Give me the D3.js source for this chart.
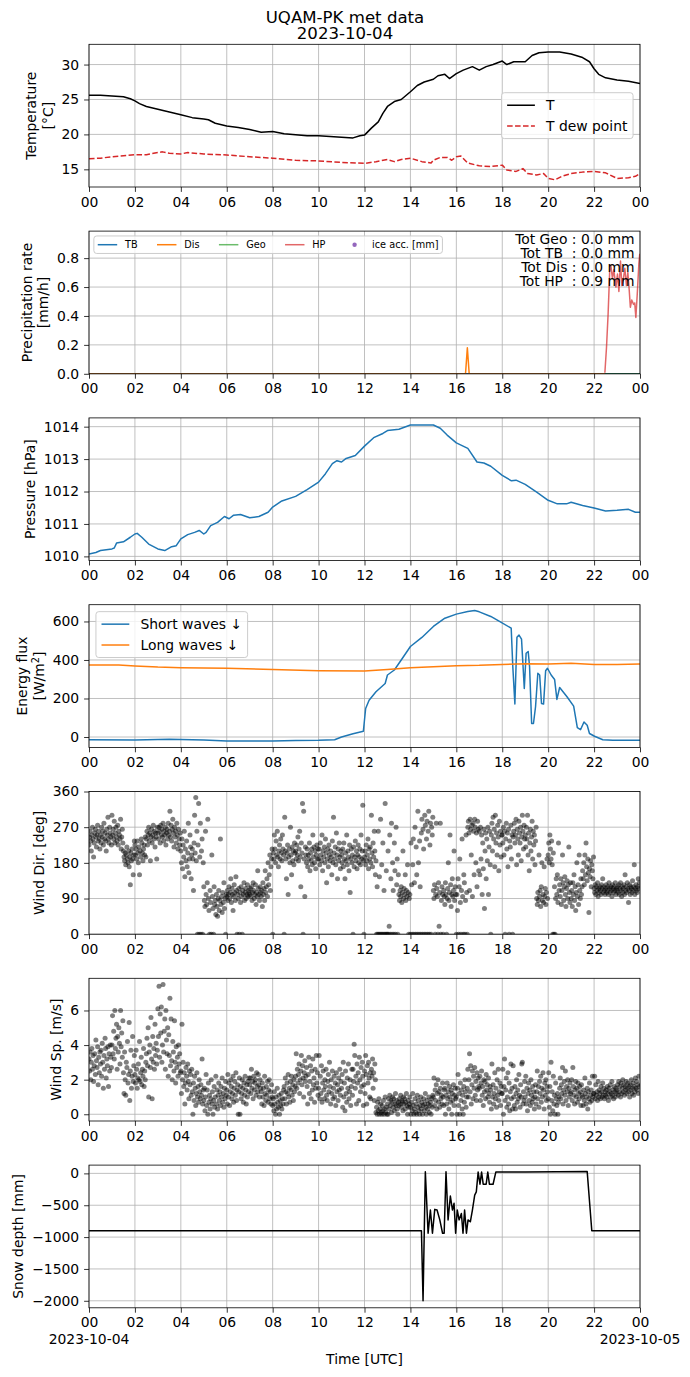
<!DOCTYPE html>
<html>
<head>
<meta charset="utf-8">
<script src="https://cdn.jsdelivr.net/npm/d3@7"></script>
<style>
body { margin: 0; background: #fff; }
text { font-family: "DejaVu Sans", sans-serif; }
</style>
</head>
<body>
<div id="chart"></div>
<script>
// ---- data, [hour UTC, value] ----
var tempSeries = [[0,25.6],[0.5,25.6],[1,25.5],[1.5,25.4],[1.8,25.1],[2,24.8],[2.2,24.4],[2.5,24.0],[3,23.6],[3.5,23.2],
  [4,22.8],[4.5,22.4],[5,22.2],[5.2,22.1],[5.5,21.6],[6,21.2],[6.5,21.0],[7,20.7],[7.5,20.3],[8,20.4],
  [8.5,20.1],[9,19.95],[9.5,19.8],[10,19.8],[10.5,19.7],[11,19.6],[11.5,19.5],[11.8,19.8],[12,19.9],[12.3,20.9],
  [12.6,21.8],[12.8,23.0],[13,24.0],[13.3,24.7],[13.6,25.0],[14,26.1],[14.3,27.0],[14.6,27.5],[15,27.9],[15.2,28.4],
  [15.5,28.6],[15.7,28.0],[16,28.7],[16.3,29.2],[16.7,29.7],[17,29.2],[17.3,29.7],[17.6,30.0],[18,30.5],[18.2,30.0],
  [18.5,30.4],[19,30.4],[19.3,31.3],[19.6,31.7],[20,31.8],[20.5,31.8],[21,31.5],[21.5,31.0],[21.8,30.4],[22,29.4],
  [22.2,28.6],[22.5,28.1],[23,27.8],[23.5,27.6],[24,27.3]];
var dewSeries = [[0,16.5],[0.5,16.6],[1,16.8],[2,17.1],[2.5,17.1],[3,17.4],[3.2,17.5],[3.5,17.3],[4,17.2],[4.3,17.4],
  [5,17.2],[6,17.05],[7,16.8],[8,16.6],[9,16.3],[10,16.2],[11,16.0],[12,15.85],[12.5,16.1],[13,16.4],
  [13.3,16.1],[13.6,16.4],[14,16.6],[14.5,16.1],[14.9,15.9],[15,16.3],[15.3,16.7],[15.6,16.7],[15.8,16.3],[16,16.8],
  [16.2,16.9],[16.5,15.9],[17,15.5],[17.5,15.4],[18,15.6],[18.2,14.9],[18.6,14.7],[18.9,15.1],[19.1,14.4],[19.5,14.2],
  [19.8,14.4],[20,13.7],[20.3,13.5],[20.6,14.0],[21,14.4],[21.5,14.6],[22,14.7],[22.5,14.5],[23,13.7],[23.5,13.8],
  [23.8,14.0],[24,14.4]];

var precipTB = [[0,0],[24,0]];
var precipDis = [[0,0],[16.4,0],[16.48,0.18],[16.56,0],[22.47,0]];
var precipGeo = [[22.47,0],[24,0]];
var precipHP = [[22.47,0.007],[22.54,0.18],[22.61,0.41],[22.68,0.71],[22.73,0.75],[22.8,0.66],[22.86,0.72],[22.95,0.6],
  [23.02,0.69],[23.08,0.57],[23.15,0.78],[23.21,0.61],[23.27,0.65],[23.34,0.73],[23.41,0.61],[23.47,0.70],[23.53,0.58],
  [23.58,0.46],[23.64,0.51],[23.72,0.48],[23.77,0.49],[23.82,0.39],[23.88,0.55],[23.95,0.76],[23.99,0.83]];
var precipTotals = ["Tot Geo : 0.0 mm", "Tot TB  : 0.0 mm", "Tot Dis : 0.0 mm", "Tot HP  : 0.9 mm"];

var pressSeries = [[0,1010.07],[0.3,1010.12],[0.5,1010.18],[1,1010.23],[1.1,1010.26],[1.2,1010.41],[1.5,1010.45],[1.8,1010.59],
  [2,1010.69],[2.1,1010.71],[2.3,1010.59],[2.6,1010.38],[3,1010.23],[3.3,1010.18],[3.6,1010.3],[3.8,1010.33],[4,1010.54],
  [4.3,1010.67],[4.6,1010.74],[4.8,1010.8],[5,1010.69],[5.1,1010.74],[5.3,1010.95],[5.6,1011.05],[5.9,1011.23],[6.1,1011.16],
  [6.3,1011.27],[6.6,1011.29],[7,1011.19],[7.4,1011.23],[7.8,1011.36],[8,1011.52],[8.4,1011.71],[9,1011.85],[9.5,1012.06],
  [10,1012.29],[10.3,1012.55],[10.6,1012.86],[10.8,1012.95],[11,1012.91],[11.2,1013.02],[11.6,1013.11],[12,1013.4],
  [12.4,1013.66],[12.8,1013.79],[13,1013.88],[13.5,1013.92],[14,1014.05],[14.5,1014.05],[15,1014.05],[15.3,1013.95],
  [15.6,1013.74],[16,1013.5],[16.5,1013.33],[16.9,1012.91],[17.2,1012.88],[17.5,1012.78],[18,1012.5],[18.4,1012.33],
  [18.6,1012.35],[19,1012.22],[19.5,1011.98],[20,1011.73],[20.4,1011.62],[20.8,1011.62],[21,1011.67],[21.5,1011.57],
  [22,1011.49],[22.5,1011.4],[23,1011.42],[23.5,1011.45],[23.8,1011.36],[24,1011.36]];

var shortWave = [[0,-14],[2,-15],[3.5,-12],[5,-15],[6,-21],[8,-21],[9,-18],[10,-17],[10.7,-14],[11,0],[11.5,17],[11.95,30],
  [12.05,148],[12.2,191],[12.5,235],[12.9,278],[13,322],[13.3,348],[13.6,400],[14,470],[14.5,517],[15,574],[15.5,617],
  [16,638],[16.5,652],[16.8,657],[17,650],[17.5,626],[17.88,600],[18.39,565],[18.46,365],[18.55,171],[18.64,518],
  [18.73,529],[18.84,508],[18.96,252],[19.04,435],[19.13,444],[19.19,365],[19.28,70],[19.36,70],[19.45,157],[19.55,331],
  [19.63,322],[19.71,174],[19.8,171],[19.89,344],[19.97,357],[20.13,322],[20.28,299],[20.38,195],[20.5,257],[20.82,209],
  [21.11,160],[21.27,49],[21.41,38],[21.56,78],[21.7,61],[21.8,18],[22.02,4],[22.38,-14],[22.82,-17],[24,-17]];
var longWave = [[0,374],[1.3,374],[2,369],[3,363],[4,360],[6,357],[8,350],[10,344],[12,343],[13,351],[14,360],[16,370],
  [17,372],[18,377],[19,381],[20,379],[21,383],[22,377],[23,377],[24,379]];

// wind: one row per hour, 40 readings per hour (every 1.5 min)
var windDirRows = [
  [225,245,260,235,210,250,270,240,195,230,255,265,245,220,250,275,235,260,240,215,250,230,270,245,260,225,280,240,255,235,210,265,250,295,240,230,270,255,245,225],
  [300,250,265,240,285,230,255,270,245,235,275,225,260,250,240,290,215,245,265,230,210,195,185,205,175,200,220,190,180,210,170,195,125,205,185,215,190,150,200,235],
  [225,200,215,190,235,205,180,220,150,210,195,240,230,205,185,215,225,200,245,195,240,260,225,250,270,235,255,185,245,265,230,250,275,240,260,220,255,245,190,270],
  [255,240,270,260,230,275,250,265,245,280,235,260,250,270,225,255,265,240,280,250,260,310,245,275,235,265,290,255,220,270,245,260,230,280,250,215,265,240,225,255],
  [210,180,240,165,225,195,260,145,215,185,235,170,205,280,155,190,250,220,140,200,215,190,110,230,300,205,345,185,260,0,225,330,0,195,280,0,210,240,0,180],
  [120,85,70,260,100,75,130,290,90,60,0,110,80,0,200,95,65,0,120,75,85,50,100,70,45,90,110,60,85,240,75,95,55,105,80,130,65,90,0,100],
  [95,110,85,100,120,90,105,140,80,115,100,60,95,125,105,85,145,110,0,100,90,115,0,105,80,120,95,0,110,100,130,85,105,115,90,100,125,95,110,105],
  [100,115,95,120,85,105,130,110,90,100,125,75,105,95,160,115,100,85,120,105,95,110,70,130,100,115,85,160,105,120,140,95,180,125,150,200,110,170,190,215],
  [0,205,190,250,215,180,235,200,260,195,170,210,225,190,240,205,185,250,215,200,0,295,210,190,140,205,225,100,195,215,180,270,200,150,220,185,210,175,230,205],
  [210,190,225,200,245,185,215,260,195,120,230,205,330,0,310,190,95,220,200,180,215,170,200,190,230,160,205,185,215,175,250,195,220,180,210,165,200,225,190,215],
  [190,215,175,230,200,185,250,160,210,195,220,180,240,205,130,190,215,170,225,200,185,210,195,150,235,180,295,205,190,220,175,255,200,140,215,185,230,195,165,210],
  [200,180,215,170,230,190,140,205,185,250,175,210,195,160,225,105,190,215,180,200,0,220,170,195,235,185,210,165,200,225,180,195,215,175,250,190,210,325,185,0],
  [195,210,175,225,185,200,240,165,215,190,220,180,300,205,170,230,195,260,210,150,185,0,120,0,260,0,145,0,290,0,175,0,230,0,110,0,330,0,160,0],
  [0,210,0,20,250,0,140,280,0,180,110,0,230,160,0,270,125,190,0,150,100,85,110,95,120,80,105,210,90,115,100,150,85,110,95,175,105,0,90,100],
  [0,230,125,0,175,240,0,130,270,0,220,150,0,310,180,0,235,120,0,255,290,0,265,215,0,300,275,0,240,285,0,260,310,0,225,280,0,270,250,295],
  [110,90,125,0,100,280,115,95,0,130,20,105,280,0,85,120,100,0,110,95,75,130,100,0,90,115,180,85,105,250,125,70,100,140,95,110,210,85,120,100],
  [0,100,60,140,0,120,190,80,0,110,240,95,0,150,130,0,85,250,105,0,270,285,255,110,290,265,200,275,95,280,260,150,290,270,180,255,120,285,265,160],
  [260,150,270,190,250,100,230,165,265,65,210,255,140,240,185,270,100,220,260,175,0,250,280,210,295,240,265,170,300,230,255,200,275,245,160,285,225,260,195,250],
  [250,230,270,200,260,0,240,280,215,255,170,265,0,235,220,275,190,250,0,245,260,280,230,250,290,175,265,240,200,285,255,230,270,185,245,300,260,215,275,240],
  [250,220,270,240,300,200,255,160,230,265,210,245,285,190,260,225,250,175,235,270,90,75,105,85,200,95,110,70,120,180,85,100,80,170,95,115,75,105,190,90],
  [200,230,180,250,215,190,235,175,0,205,0,120,0,90,140,100,150,80,230,110,125,95,140,75,110,200,130,85,120,145,100,70,115,135,90,125,220,105,80,130],
  [90,110,70,130,100,150,85,120,60,105,180,95,125,75,200,110,90,140,100,120,160,140,180,125,200,150,230,170,135,190,155,55,165,145,185,120,175,160,140,195],
  [115,105,125,100,120,110,130,95,115,105,120,110,100,125,115,140,105,120,110,100,115,125,105,110,120,100,130,115,105,120,110,95,125,115,105,120,110,130,100,115],
  [110,120,105,125,100,115,130,110,95,120,105,115,125,100,150,110,120,105,130,115,80,110,125,100,120,115,105,135,110,120,175,100,115,125,110,105,120,140,115,130]];
var windSpRows = [
  [3.2,2.5,3.6,2.0,3.0,3.8,2.6,3.4,1.9,2.8,3.5,2.3,4.3,3.1,2.7,3.9,1.7,3.3,2.4,3.6,2.9,3.7,2.2,4.1,3.0,1.5,3.4,2.6,4.4,3.8,2.1,3.2,2.8,3.9,1.6,3.5,2.5,4.0,3.3,2.7],
  [4.0,5.7,3.5,4.8,3.2,6.0,3.8,4.4,5.2,2.6,4.5,3.6,5.0,4.1,2.9,6.0,3.9,4.7,3.3,5.4,2.4,1.2,3.6,2.0,1.1,3.0,2.7,4.2,1.8,2.3,5.3,0.8,2.5,3.7,1.5,2.2,4.5,1.9,2.8,3.4],
  [2.3,1.8,3.7,2.6,1.5,2.1,2.9,2.0,4.2,1.9,2.4,3.3,1.7,2.6,2.2,3.8,1.6,2.5,2.0,3.0,3.5,4.4,2.8,5.0,1.0,3.6,4.0,2.7,5.6,3.2,0.9,4.5,3.0,3.8,2.6,5.2,3.4,4.1,2.9,3.7],
  [6.1,4.5,7.4,3.3,5.8,4.7,6.2,3.0,4.0,7.5,3.6,4.8,5.5,2.6,6.0,4.3,3.5,5.0,2.2,4.6,3.4,6.7,2.8,5.5,3.1,2.0,4.2,3.6,2.5,5.4,3.0,1.8,3.9,2.7,3.3,2.2,4.0,2.9,3.5,2.4],
  [2.5,1.2,5.2,2.0,3.0,1.6,2.4,0.6,1.8,2.7,2.2,1.4,2.9,1.9,0.9,2.5,1.7,2.3,1.1,2.6,1.3,0.0,1.8,0.8,2.2,1.5,0.5,1.2,2.4,1.0,1.6,0.7,2.0,1.3,0.9,1.7,1.1,3.2,0.6,1.4],
  [0.8,1.5,0.2,1.0,2.3,0.5,1.4,0.0,1.8,0.7,1.1,0.3,0.9,2.0,0.6,1.3,0.0,0.8,1.6,0.4,1.0,2.2,0.6,1.4,0.3,1.1,1.8,0.8,1.3,0.5,1.6,1.0,2.1,0.7,1.2,0.4,1.5,0.9,1.9,1.1],
  [1.4,0.6,2.3,1.0,1.8,0.5,1.3,2.0,1.6,0.9,1.2,2.2,0.7,1.5,1.9,1.1,2.4,0.8,1.4,1.7,0.0,1.3,2.1,0.0,1.6,0.9,1.2,2.0,1.5,0.7,1.8,1.1,2.2,1.4,0.6,1.7,1.0,1.9,1.3,2.1],
  [1.7,2.1,1.2,2.6,1.5,1.9,0.9,2.2,1.4,1.8,2.0,1.1,2.4,1.6,1.3,2.3,1.7,1.0,2.0,1.5,1.3,0.6,1.8,1.0,1.5,0.5,2.2,1.2,0.8,1.6,1.1,1.9,0.7,1.4,2.0,0.9,1.3,0.6,1.7,1.0],
  [0.5,0.9,0.2,1.3,0.6,0.0,1.0,0.3,1.5,0.7,0.4,1.1,0.0,0.8,0.5,1.2,0.3,0.9,0.6,1.4,1.6,0.9,2.1,1.3,0.6,1.8,1.2,2.3,1.0,1.5,0.7,1.9,1.4,2.2,1.1,1.7,0.8,2.0,1.3,1.6],
  [2.2,3.5,1.5,2.6,1.8,2.3,2.9,1.2,2.0,2.5,3.4,1.7,2.8,2.1,1.0,2.4,3.1,1.9,2.2,2.7,1.6,0.6,2.3,3.3,1.2,1.9,2.8,0.9,2.5,1.4,3.2,1.7,2.1,0.7,2.6,1.5,3.4,1.8,2.4,1.1],
  [1.5,3.4,0.9,2.2,1.2,2.8,0.7,1.8,2.5,1.4,0.9,2.0,1.6,2.6,1.1,0.8,1.9,2.3,1.3,3.0,1.6,0.6,2.0,1.2,2.5,0.9,1.5,2.2,1.0,1.8,0.5,2.4,1.3,1.7,0.8,2.1,1.4,2.6,1.1,1.9],
  [1.5,2.3,0.4,3.0,1.0,1.8,0.2,2.5,1.2,0.7,2.1,1.5,2.9,0.9,1.3,2.0,0.5,1.6,2.6,1.1,2.6,1.9,4.05,3.4,1.5,2.2,0.6,2.9,1.8,2.4,0.8,3.3,2.0,1.3,2.7,1.6,3.0,2.2,0.5,1.7],
  [2.5,1.2,3.4,2.3,0.6,2.8,1.8,3.0,2.1,1.0,2.4,0.9,2.6,2.2,3.2,1.5,2.4,0.8,2.9,2.0,0.1,0.4,0.0,0.7,0.2,0.9,0.0,0.3,0.6,0.1,0.0,0.5,0.2,0.8,0.0,0.3,1.0,0.1,0.4,0.0],
  [0.6,0.0,0.9,0.3,1.1,0.5,0.8,0.1,0.7,1.0,0.4,0.9,0.2,0.6,1.2,0.5,0.8,0.3,0.0,0.7,0.5,0.9,0.6,1.1,0.4,0.8,0.7,0.2,1.0,0.6,0.9,0.3,0.7,1.2,0.5,0.0,0.8,0.4,0.6,1.0],
  [0.4,0.0,0.7,0.2,1.2,0.5,0.0,0.3,0.9,0.1,0.6,0.0,1.1,0.4,0.8,0.2,0.0,0.5,1.0,0.3,0.7,0.0,0.5,0.9,0.2,0.6,1.2,0.4,0.0,0.8,0.3,0.6,1.0,0.1,0.5,0.7,0.0,0.9,0.4,1.1],
  [1.0,2.1,0.5,1.4,0.8,1.7,0.3,1.2,2.0,0.7,1.3,0.4,1.5,0.9,1.1,0.6,1.8,1.0,0.5,1.4,1.5,0.0,1.1,0.6,1.8,0.9,1.3,0.3,1.6,1.0,0.7,1.4,0.0,1.2,0.8,1.7,0.5,1.1,1.5,0.9],
  [1.0,0.0,1.5,2.3,0.5,1.2,0.0,1.8,0.8,1.4,0.3,1.1,0.0,1.6,0.7,2.0,1.3,0.4,1.0,1.5,2.6,1.0,2.0,3.5,1.3,2.8,0.6,1.7,2.5,0.9,2.2,1.5,2.7,1.1,1.9,0.8,2.4,1.4,2.1,1.6],
  [1.5,2.2,0.8,1.8,2.5,1.1,1.6,0.5,2.0,1.3,1.9,0.9,2.3,1.4,1.7,1.0,2.1,1.2,0.7,1.6,1.4,0.3,2.9,1.0,1.7,0.6,1.2,2.4,0.9,1.5,0.4,2.0,1.1,2.6,0.8,1.3,1.8,0.5,1.6,1.2],
  [1.2,2.6,0.0,1.6,3.2,0.8,1.4,2.1,0.4,1.0,2.4,0.6,1.8,0.2,1.3,2.9,0.9,1.5,0.3,2.8,1.0,0.5,1.6,0.3,1.2,2.0,0.7,1.4,0.9,2.3,1.1,0.4,1.7,1.0,2.9,3.0,0.6,1.3,0.8,1.9],
  [1.0,2.2,0.6,1.5,0.2,1.2,1.8,0.8,1.4,0.5,2.0,1.1,0.7,1.6,0.9,1.3,0.3,1.0,1.7,0.6,1.3,2.5,0.9,1.6,0.4,1.9,1.2,2.2,0.7,1.5,1.0,2.4,1.4,0.3,1.8,1.1,2.0,0.8,1.6,1.3],
  [0.9,2.4,0.4,1.6,0.0,3.0,0.8,1.3,0.2,2.2,0.6,1.1,0.0,1.8,0.9,0.5,1.2,0.0,0.7,1.0,1.5,2.1,0.9,1.7,1.2,2.7,0.6,1.4,1.9,1.1,2.5,0.8,1.6,1.3,2.0,0.5,1.5,1.0,1.8,1.2],
  [1.3,2.0,0.8,2.7,1.6,1.1,0.6,1.4,1.9,1.0,1.5,0.7,1.8,1.2,0.9,1.6,1.3,0.5,1.7,1.1,1.0,0.5,1.4,0.8,2.1,1.2,0.6,1.0,1.5,0.3,1.3,0.9,1.8,0.7,1.1,1.4,0.8,2.2,1.0,1.2],
  [1.2,2.2,0.9,1.7,1.1,1.3,0.8,1.9,1.0,1.4,1.2,0.9,1.6,1.3,1.0,1.8,1.1,1.5,0.9,1.3,1.1,1.4,1.0,1.6,1.2,0.8,1.5,1.3,1.7,1.0,1.2,1.9,1.1,1.4,0.9,1.6,1.3,1.0,1.5,1.2],
  [1.4,1.7,1.1,1.9,1.3,1.6,1.0,1.8,1.2,1.5,2.0,1.3,1.7,1.1,1.6,1.4,1.9,1.2,1.5,1.8,1.3,1.6,1.0,1.7,1.4,2.0,1.2,1.5,1.8,1.1,1.6,1.3,2.1,1.5,1.9,1.4,1.7,1.2,2.2,1.6]];

var snowSeries = [[0,-900],[14.48,-900],[14.55,-2000],[14.65,25],[14.77,-940],[14.87,-575],[14.96,-940],[15.06,-565],
  [15.16,-575],[15.28,-730],[15.4,-940],[15.47,-940],[15.55,25],[15.64,-730],[15.74,-355],[15.83,-575],[15.9,-470],
  [15.97,-940],[16.04,-575],[16.12,-730],[16.22,-630],[16.29,-940],[16.36,-575],[16.44,-940],[16.51,-730],[16.61,-760],
  [16.7,-575],[16.8,-340],[16.87,-290],[16.95,20],[17.03,-170],[17.1,20],[17.17,-170],[17.3,-170],[17.37,20],[17.44,-170],
  [17.6,-170],[17.72,20],[19,22],[21.7,28],[21.9,-900],[24,-900]];

var hourTicks = [0,2,4,6,8,10,12,14,16,18,20,22,24];
var dayLabels = ["2023-10-04", "2023-10-05"];

// ---- layout ----
var W = 690, H = 1377;
var left = 89, right = 640;
var panelTop0 = 44.3, panelStep = 186.8, panelH = 142.7;
var fs = 13.9;
var tick = 4.9;

var t0 = Date.UTC(2023, 9, 4);
function toDate(h) { return new Date(t0 + h * 3600e3); }

var svg = d3.select("#chart").append("svg")
    .attr("width", W).attr("height", H)
    .style("background", "#fff");

var x = d3.scaleUtc().domain([toDate(0), toDate(24)]).range([left, right]);
var xTicks = hourTicks.map(toDate);

function textWidth(str, size) {
    var t = svg.append("text").attr("font-size", size).text(str);
    var w = t.node().getComputedTextLength();
    t.remove();
    return w;
}

function makePanel(i, domain, yTicks, fmt, labelLines) {
    var top = panelTop0 + i * panelStep, bottom = top + panelH;
    var y = d3.scaleLinear().domain(domain).range([bottom, top]);
    var g = svg.append("g");

    var clipId = "clip" + i;
    svg.append("clipPath").attr("id", clipId)
        .append("rect").attr("x", left).attr("y", top)
        .attr("width", right - left).attr("height", panelH);

    var grid = g.append("g").attr("stroke", "#b0b0b0").attr("stroke-width", 0.8);
    grid.selectAll(".gx").data(xTicks).join("line")
        .attr("x1", d => x(d)).attr("x2", d => x(d))
        .attr("y1", top).attr("y2", bottom);
    grid.selectAll(".gy").data(yTicks).join("line")
        .attr("x1", left).attr("x2", right)
        .attr("y1", d => y(d)).attr("y2", d => y(d));

    var plot = g.append("g").attr("clip-path", "url(#" + clipId + ")");

    return { g: g, plot: plot, y: y, top: top, bottom: bottom, i: i,
             yTicks: yTicks, fmt: fmt, labelLines: labelLines };
}

function finishPanel(p) {
    var g = svg.append("g");
    g.append("rect").attr("x", left).attr("y", p.top)
        .attr("width", right - left).attr("height", panelH)
        .attr("fill", "none").attr("stroke", "#000").attr("stroke-width", 0.8);

    var xa = g.append("g").attr("transform", "translate(0," + p.bottom + ")")
        .call(d3.axisBottom(x).tickValues(xTicks).tickFormat(d3.utcFormat("%H"))
              .tickSize(tick).tickPadding(tick));
    var ya = g.append("g").attr("transform", "translate(" + left + ",0)")
        .call(d3.axisLeft(p.y).tickValues(p.yTicks).tickFormat(p.fmt)
              .tickSize(tick).tickPadding(tick));
    [xa, ya].forEach(function(a) {
        a.select(".domain").remove();
        a.attr("font-family", null).attr("font-size", fs);
        a.selectAll("line").attr("stroke-width", 0.8);
        a.selectAll("text").attr("fill", "#000");
    });

    // y label, placed left of the tick labels
    var bb = ya.node().getBBox();
    var xr = left + bb.x - 5.6;
    var yc = (p.top + p.bottom) / 2;
    var n = p.labelLines.length;
    var lab = g.append("text")
        .attr("transform", "translate(" + xr + "," + yc + ") rotate(-90)")
        .attr("text-anchor", "middle").attr("font-size", fs);
    p.labelLines.forEach(function(line, k) {
        var ts = lab.append("tspan").attr("x", 0)
            .attr("y", -0.236 * fs - (n - 1 - k) * 16.7);
        if (typeof line === "string") ts.text(line);
        else line(ts);
    });
    return g;
}

function drawLine(p, data, color, opts) {
    opts = opts || {};
    var line = d3.line().x(d => x(toDate(d[0]))).y(d => p.y(d[1]));
    p.plot.append("path").attr("d", line(data))
        .attr("fill", "none").attr("stroke", color)
        .attr("stroke-width", 1.5)
        .attr("stroke-opacity", opts.opacity || 1)
        .attr("stroke-dasharray", opts.dash || null)
        .attr("stroke-linejoin", "round");
}

function drawDots(p, rows) {
    var pts = [];
    rows.forEach(function(row, h) {
        row.forEach(function(v, k) { pts.push([h + k / row.length, v]); });
    });
    p.plot.append("g").selectAll("circle").data(pts).join("circle")
        .attr("cx", d => x(toDate(d[0]))).attr("cy", d => p.y(d[1]))
        .attr("r", 2.5).attr("fill", "#000").attr("fill-opacity", 0.5);
}

function drawLegend(p, items, size, loc, ncol) {
    var bp = 0.4 * size, hl = 2 * size, hp = 0.8 * size, ls = 0.5 * size, cs = 2 * size, pad = 0.5 * size;
    var rowH = size;
    var widths = items.map(d => textWidth(d.label, size));
    var nrow = Math.ceil(items.length / ncol);
    var colW = [];
    for (var c = 0; c < ncol; c++) {
        var m = 0;
        for (var r = 0; r < nrow; r++) {
            var j = c * nrow + r;
            if (j < items.length) m = Math.max(m, widths[j]);
        }
        colW.push(hl + hp + m);
    }
    var w = 2 * bp + d3.sum(colW) + (ncol - 1) * cs;
    var h = 2 * bp + nrow * rowH + (nrow - 1) * ls;
    var bx, by;
    if (loc === "upper left") { bx = left + pad; by = p.top + pad; }
    else { bx = right - pad - w; by = (p.top + p.bottom) / 2 - h / 2; }

    var g = svg.append("g");
    g.append("rect").attr("x", bx).attr("y", by).attr("width", w).attr("height", h)
        .attr("rx", 2.8).attr("fill", "#fff").attr("fill-opacity", 0.8)
        .attr("stroke", "#cccccc").attr("stroke-width", 1);
    items.forEach(function(d, j) {
        var c = Math.floor(j / nrow), r = j % nrow;
        var x0 = bx + bp + d3.sum(colW.slice(0, c)) + c * cs;
        var yc = by + bp + r * (rowH + ls) + rowH / 2;
        if (d.type === "dot") {
            g.append("circle").attr("cx", x0 + hl / 2).attr("cy", yc).attr("r", 2.2)
                .attr("fill", d.color);
        } else {
            g.append("line").attr("x1", x0).attr("x2", x0 + hl).attr("y1", yc).attr("y2", yc)
                .attr("stroke", d.color).attr("stroke-width", 1.5)
                .attr("stroke-opacity", d.opacity || 1)
                .attr("stroke-dasharray", d.dash || null);
        }
        g.append("text").attr("x", x0 + hl + hp).attr("y", yc + 0.36 * size)
            .attr("font-size", size).attr("fill", "#000").text(d.label);
    });
}

var blue = "#1f77b4", orange = "#ff7f0e", green = "#2ca02c", red = "#d62728", purple = "#9467bd";
var dash = "5.55,2.4";

// title
svg.append("text").attr("x", W / 2).attr("y", 22.5).attr("text-anchor", "middle")
    .attr("font-size", 16.6).text("UQAM-PK met data");
svg.append("text").attr("x", W / 2).attr("y", 38.8).attr("text-anchor", "middle")
    .attr("font-size", 16.6).text("2023-10-04");

// 1 temperature
var p1 = makePanel(0, [12.47, 32.9], [15, 20, 25, 30], d3.format("d"), ["Temperature", "[°C]"]);
drawLine(p1, tempSeries, "#000");
drawLine(p1, dewSeries, red, { dash: dash });
finishPanel(p1);
drawLegend(p1, [{ label: "T", color: "#000" }, { label: "T dew point", color: red, dash: dash }], fs, "center right", 1);

// 2 precipitation
var p2 = makePanel(1, [0, 0.987], [0, 0.2, 0.4, 0.6, 0.8], d3.format(".1f"), ["Precipitation rate", "[mm/h]"]);
drawLine(p2, precipTB, blue);
drawLine(p2, precipDis, orange);
drawLine(p2, precipGeo, green, { opacity: 0.7 });
drawLine(p2, precipHP, red, { opacity: 0.7 });
finishPanel(p2);
drawLegend(p2, [
    { label: "TB", color: blue }, { label: "Dis", color: orange },
    { label: "Geo", color: green, opacity: 0.7 }, { label: "HP", color: red, opacity: 0.7 },
    { label: "ice acc. [mm]", color: purple, type: "dot" }], 9.72, "upper left", 5);
var tot = svg.append("text").attr("font-size", fs).attr("text-anchor", "end")
    .style("white-space", "pre");
precipTotals.forEach(function(s, k) {
    tot.append("tspan").attr("x", right - 5.5).attr("y", p2.top + 12.8 + k * 14).text(s);
});

// 3 pressure
var p3 = makePanel(2, [1009.87, 1014.27], [1010, 1011, 1012, 1013, 1014], d3.format("d"), ["Pressure [hPa]"]);
drawLine(p3, pressSeries, blue);
finishPanel(p3);

// 4 radiation
var p4 = makePanel(3, [-54, 687], [0, 200, 400, 600], d3.format("d"), ["Energy flux", function(ts) {
    ts.text("[W/m");
    ts.append("tspan").attr("baseline-shift", "super").attr("font-size", 9.7).text("2");
    ts.append("tspan").text("]");
}]);
drawLine(p4, shortWave, blue);
drawLine(p4, longWave, orange);
finishPanel(p4);
drawLegend(p4, [{ label: "Short waves \u2193", color: blue }, { label: "Long waves \u2193", color: orange }], fs, "upper left", 1);

// 5 wind direction
var p5 = makePanel(4, [0, 360], [0, 90, 180, 270, 360], d3.format("d"), ["Wind Dir. [deg]"]);
drawDots(p5, windDirRows);
finishPanel(p5);

// 6 wind speed
var p6 = makePanel(5, [-0.39, 7.86], [0, 2, 4, 6], d3.format("d"), ["Wind Sp. [m/s]"]);
drawDots(p6, windSpRows);
finishPanel(p6);

// 7 snow depth
var p7 = makePanel(6, [-2110, 130], [-2000, -1500, -1000, -500, 0], d3.format("d"), ["Snow depth [mm]"]);
drawLine(p7, snowSeries, "#000");
finishPanel(p7);

// date labels under first and last tick, and x label
svg.append("g").selectAll("text").data([xTicks[0], xTicks[xTicks.length - 1]]).join("text")
    .attr("x", d => x(d)).attr("y", p7.bottom + 36.5)
    .attr("text-anchor", "middle").attr("font-size", fs)
    .text((d, k) => dayLabels[k]);
svg.append("text").attr("x", (left + right) / 2).attr("y", p7.bottom + 56)
    .attr("text-anchor", "middle").attr("font-size", fs).text("Time [UTC]");
</script>
</body>
</html>
